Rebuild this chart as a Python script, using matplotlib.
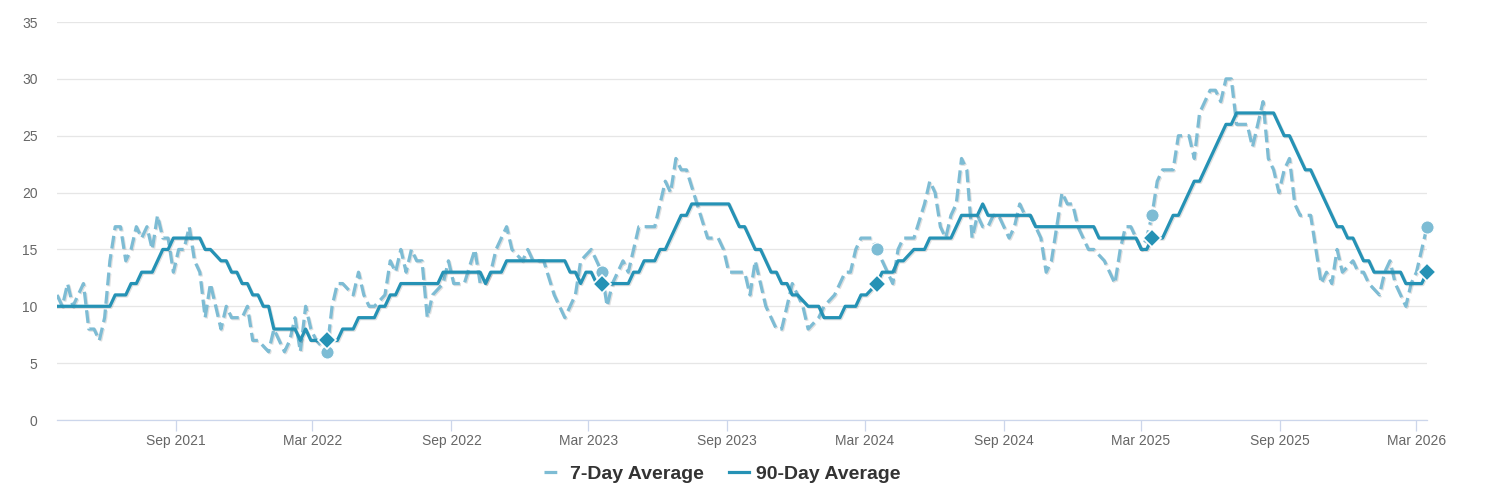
import matplotlib
matplotlib.use('Agg')
import matplotlib.pyplot as plt
import matplotlib.dates as mdates
import matplotlib.patheffects as pe
from matplotlib.lines import Line2D
import numpy as np
import pandas as pd

# ---------------------------------------------------------------------------
# Data - weekly series, week number counted from 2021-03-28
# only the turning points of each line are listed
# ---------------------------------------------------------------------------
START = pd.Timestamp('2021-03-28')

wk7 = [0, 1, 2, 3, 5, 6, 7, 8, 9, 10,
       11, 12, 13, 14, 15, 16, 17, 18, 19, 20,
       21, 22, 23, 24, 25, 26, 27, 28, 29, 30,
       31, 32, 33, 35, 36, 37, 38, 40, 41, 42,
       43, 44, 45, 46, 47, 48, 49, 51, 52, 53,
       54, 56, 57, 58, 59, 60, 62, 63, 64, 65,
       66, 67, 68, 69, 70, 71, 73, 74, 75, 77,
       79, 80, 81, 82, 83, 84, 85, 86, 88, 89,
       90, 92, 94, 96, 98, 99, 101, 102, 103, 104,
       105, 107, 108, 109, 110, 113, 114, 115, 116, 117,
       118, 119, 121, 123, 125, 126, 127, 130, 131, 132,
       133, 134, 135, 136, 137, 138, 139, 141, 142, 144,
       145, 147, 149, 150, 151, 152, 154, 155, 156, 157,
       158, 159, 160, 162, 164, 165, 166, 167, 168, 169,
       170, 171, 172, 173, 174, 175, 176, 177, 178, 180,
       181, 182, 183, 184, 186, 187, 188, 189, 190, 191,
       192, 193, 195, 196, 198, 200, 201, 202, 203, 204,
       205, 206, 207, 208, 209, 211, 212, 214, 215, 216,
       217, 218, 219, 220, 221, 222, 223, 225, 226, 227,
       228, 229, 230, 231, 232, 233, 234, 235, 237, 238,
       239, 240, 241, 242, 243, 245, 246, 247, 248, 250,
       251, 252, 253, 254, 255, 256, 257, 258, 259]
avg7 = [11, 10, 12, 10, 12, 8, 8, 7, 9, 14,
        17, 17, 14, 15, 17, 16, 17, 15, 18, 16,
        16, 13, 15, 15, 17, 14, 13, 9, 12, 10,
        8, 10, 9, 9, 10, 7, 7, 6, 8, 7,
        6, 7, 9, 6, 10, 8, 7, 6, 10, 12,
        12, 11, 13, 11, 10, 10, 11, 14, 13, 15,
        13, 15, 14, 14, 9, 11, 12, 14, 12, 12,
        15, 12, 12, 13, 15, 16, 17, 15, 14, 15,
        14, 14, 11, 9, 11, 14, 15, 14, 13, 10,
        12, 14, 13, 15, 17, 17, 19, 21, 20, 23,
        22, 22, 19, 16, 16, 15, 13, 13, 11, 14,
        12, 10, 9, 8, 8, 10, 12, 10, 8, 9,
        10, 11, 13, 13, 15, 16, 16, 15, 14, 13,
        12, 15, 16, 16, 19, 21, 20, 17, 16, 18,
        19, 23, 22, 16, 18, 17, 17, 18, 18, 16,
        17, 19, 18, 18, 16, 13, 14, 17, 20, 19,
        19, 17, 15, 15, 14, 12, 15, 17, 17, 16,
        15, 16, 18, 21, 22, 22, 25, 25, 23, 27,
        28, 29, 29, 28, 30, 30, 26, 26, 24, 26,
        28, 23, 22, 20, 22, 23, 19, 18, 18, 15,
        12, 13, 12, 15, 13, 14, 13, 13, 12, 11,
        13, 14, 12, 11, 10, 12, 13, 15, 17]

wk90 = [0, 10, 11, 13, 14, 15, 16, 18, 20, 21,
        22, 27, 28, 29, 31, 32, 33, 34, 35, 36,
        37, 38, 39, 40, 41, 45, 46, 47, 48, 53,
        54, 56, 57, 60, 61, 62, 63, 64, 65, 72,
        73, 80, 81, 82, 84, 85, 96, 97, 98, 99,
        100, 101, 102, 108, 109, 110, 111, 113, 114, 115,
        118, 119, 120, 127, 129, 130, 132, 133, 135, 136,
        137, 138, 139, 140, 142, 144, 145, 148, 149, 151,
        152, 153, 155, 156, 158, 159, 160, 162, 164, 165,
        169, 171, 174, 175, 176, 184, 185, 196, 197, 204,
        205, 206, 207, 209, 211, 212, 215, 216, 221, 222,
        223, 230, 232, 233, 236, 237, 242, 243, 244, 245,
        247, 248, 249, 254, 255, 258, 259]
avg90 = [10, 10, 11, 11, 12, 12, 13, 13, 15, 15,
         16, 16, 15, 15, 14, 14, 13, 13, 12, 12,
         11, 11, 10, 10, 8, 8, 7, 8, 7, 7,
         8, 8, 9, 9, 10, 10, 11, 11, 12, 12,
         13, 13, 12, 13, 13, 14, 14, 13, 13, 12,
         13, 13, 12, 12, 13, 13, 14, 14, 15, 15,
         18, 18, 19, 19, 17, 17, 15, 15, 13, 13,
         12, 12, 11, 11, 10, 10, 9, 9, 10, 10,
         11, 11, 12, 13, 13, 14, 14, 15, 15, 16,
         16, 18, 18, 19, 18, 18, 17, 17, 16, 16,
         15, 15, 16, 16, 18, 18, 21, 21, 26, 26,
         27, 27, 25, 25, 22, 22, 17, 17, 16, 16,
         14, 14, 13, 13, 12, 12, 13]

# same week each year, highlighted
mark_wk = [51, 103, 155, 207, 259]
mark7 = [6, 13, 15, 18, 17]
mark90 = [7, 12, 12, 16, 13]

labels = ['7-Day Average', '90-Day Average']

C7 = '#7dbcd4'
C90 = '#2592b5'


def to_dates(weeks):
	return START + pd.to_timedelta(np.array(weeks) * 7, unit='D')


# ---------------------------------------------------------------------------
# Plot
# ---------------------------------------------------------------------------
plt.rcParams['font.family'] = ['Liberation Sans', 'DejaVu Sans']

fig = plt.figure(figsize=(14.86, 4.97), dpi=100)
ax = fig.add_axes([57 / 1486, 77 / 497, 1370 / 1486, 398 / 497])

shadow = [pe.SimpleLineShadow(offset=(0.8, -0.8), shadow_color='black', alpha=0.12),
          pe.Normal()]
dash = (0, (4, 1.8))

ax.plot(to_dates(wk7), avg7, color=C7, lw=2.3, ls=dash, dash_capstyle='butt',
        path_effects=shadow, zorder=3)
ax.plot(to_dates(wk90), avg90, color=C90, lw=2.3, solid_joinstyle='round',
        path_effects=shadow, zorder=4)

ax.plot(to_dates(mark_wk), mark7, ls='none', marker='o', ms=9.5, color=C7,
        mec='white', mew=0.8, zorder=5, clip_on=False)
ax.plot(to_dates(mark_wk), mark90, ls='none', marker='D', ms=9, color=C90,
        mec='white', mew=1.2, zorder=6, clip_on=False)

# axes
ax.set_xlim(to_dates([wk90[0]])[0], to_dates([wk90[-1]])[0])
ax.set_ylim(0, 35)
ax.set_yticks(range(0, 36, 5))
ax.grid(axis='y', color='#e6e6e6', lw=0.9)
ax.set_axisbelow(True)
for s in ['top', 'right', 'left']:
	ax.spines[s].set_visible(False)
ax.spines['bottom'].set_color('#ccd6eb')
ax.spines['bottom'].set_linewidth(0.9)

ax.xaxis.set_major_locator(mdates.MonthLocator(bymonth=[3, 9]))
ax.xaxis.set_major_formatter(mdates.DateFormatter('%b %Y'))
ax.tick_params(axis='x', colors='#ccd6eb', labelcolor='#666666', length=8,
               width=0.9, pad=2, labelsize=10)
ax.tick_params(axis='y', length=0, pad=14, labelcolor='#666666', labelsize=10)

# legend - the dashed symbol shows a single dash
handles = [Line2D([], [], color=C7, lw=2.3, ls=(0, (4, 10)), dash_capstyle='butt'),
           Line2D([], [], color=C90, lw=2.3)]
leg = fig.legend(handles, labels, loc='center', bbox_to_anchor=(722 / 1486, 1 - 474 / 497),
                 ncol=2, frameon=False, prop={'weight': 'bold', 'size': 14},
                 handlelength=1.0, handletextpad=0.35, columnspacing=1.3)
for t in leg.get_texts():
	t.set_color('#333333')

fig.savefig('out.png', dpi=100)
